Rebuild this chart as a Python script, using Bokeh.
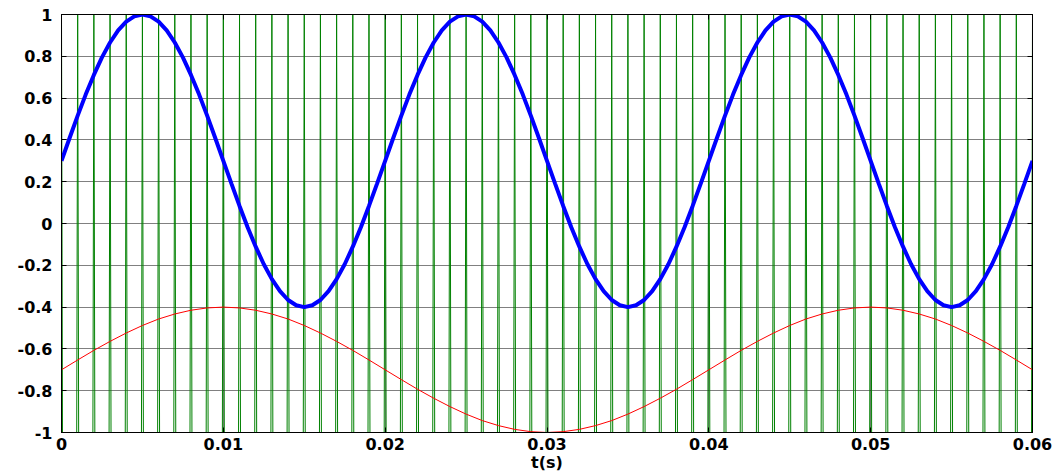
from bokeh.plotting import figure
from bokeh.models import Range1d, FixedTicker, LinearAxis
from bokeh.embed import file_html
from bokeh.resources import INLINE

# ---- data ----
# thick blue signal, sampled every 0.5 ms
blue_step = 0.0005
blue_y = [
    0.300, 0.409, 0.516, 0.618, 0.711, 0.795, 0.866, 0.924, 0.966, 0.991,
    1.000, 0.991, 0.966, 0.924, 0.866, 0.795, 0.711, 0.618, 0.516, 0.409,
    0.300, 0.191, 0.084, -0.018, -0.111, -0.195, -0.266, -0.324, -0.366, -0.391,
    -0.400, -0.391, -0.366, -0.324, -0.266, -0.195, -0.111, -0.018, 0.084, 0.191,
    0.300, 0.409, 0.516, 0.618, 0.711, 0.795, 0.866, 0.924, 0.966, 0.991,
    1.000, 0.991, 0.966, 0.924, 0.866, 0.795, 0.711, 0.618, 0.516, 0.409,
    0.300, 0.191, 0.084, -0.018, -0.111, -0.195, -0.266, -0.324, -0.366, -0.391,
    -0.400, -0.391, -0.366, -0.324, -0.266, -0.195, -0.111, -0.018, 0.084, 0.191,
    0.300, 0.409, 0.516, 0.618, 0.711, 0.795, 0.866, 0.924, 0.966, 0.991,
    1.000, 0.991, 0.966, 0.924, 0.866, 0.795, 0.711, 0.618, 0.516, 0.409,
    0.300, 0.191, 0.084, -0.018, -0.111, -0.195, -0.266, -0.324, -0.366, -0.391,
    -0.400, -0.391, -0.366, -0.324, -0.266, -0.195, -0.111, -0.018, 0.084, 0.191,
    0.300,
]
blue_t = [round(i * blue_step, 5) for i in range(len(blue_y))]

# thin red signal, sampled every 1 ms
red_step = 0.001
red_y = [
    -0.700, -0.653, -0.607, -0.564, -0.524, -0.488, -0.457, -0.433, -0.415, -0.404,
    -0.400, -0.404, -0.415, -0.433, -0.457, -0.488, -0.524, -0.564, -0.607, -0.653,
    -0.700, -0.747, -0.793, -0.836, -0.876, -0.912, -0.943, -0.967, -0.985, -0.996,
    -1.000, -0.996, -0.985, -0.967, -0.943, -0.912, -0.876, -0.836, -0.793, -0.747,
    -0.700, -0.653, -0.607, -0.564, -0.524, -0.488, -0.457, -0.433, -0.415, -0.404,
    -0.400, -0.404, -0.415, -0.433, -0.457, -0.488, -0.524, -0.564, -0.607, -0.653,
    -0.700,
]
red_t = [round(i * red_step, 4) for i in range(len(red_y))]

# green carrier: near-vertical strokes between -1 and 1 (times of each stroke)
green_t = [
    0.000, 0.001, 0.002, 0.003, 0.004, 0.005, 0.006, 0.007, 0.008, 0.009,
    0.010, 0.011, 0.012, 0.013, 0.014, 0.015, 0.016, 0.017, 0.018, 0.019,
    0.020, 0.021, 0.022, 0.023, 0.024, 0.025, 0.026, 0.027, 0.028, 0.029,
    0.030, 0.031, 0.032, 0.033, 0.034, 0.035, 0.036, 0.037, 0.038, 0.039,
    0.040, 0.041, 0.042, 0.043, 0.044, 0.045, 0.046, 0.047, 0.048, 0.049,
    0.050, 0.051, 0.052, 0.053, 0.054, 0.055, 0.056, 0.057, 0.058, 0.059,
    0.060,
]
green_low, green_high = -1.0, 1.0

x_ticks = [0.0, 0.01, 0.02, 0.03, 0.04, 0.05, 0.06]
x_tick_labels = ["0", "0.01", "0.02", "0.03", "0.04", "0.05", "0.06"]
y_ticks = [-1.0, -0.8, -0.6, -0.4, -0.2, 0.0, 0.2, 0.4, 0.6, 0.8, 1.0]
y_tick_labels = ["-1", "-0.8", "-0.6", "-0.4", "-0.2", "0", "0.2", "0.4", "0.6", "0.8", "1"]
x_label = "t(s)"

FONT = "DejaVu Sans"
FS = "16px"

p = figure(
    width=1064, height=474,
    x_range=Range1d(0, 0.06), y_range=Range1d(-1, 1),
    output_backend="svg", toolbar_location=None,
    min_border_left=61, min_border_right=32, min_border_top=14, min_border_bottom=40,
    x_axis_label=x_label,
)
p.outline_line_color = "black"
p.outline_line_width = 1
p.background_fill_color = "white"
p.border_fill_color = "white"

# grid
p.xgrid.ticker = FixedTicker(ticks=x_ticks)
p.ygrid.ticker = FixedTicker(ticks=y_ticks)
for g in (p.xgrid, p.ygrid):
    g.grid_line_color = "black"
    g.grid_line_dash = "1 1"
    g.grid_line_width = 1
    g.grid_line_alpha = 1.0

# green strokes (narrow spikes)
half = 0.00006
xs = [[t - half, t, t + half] for t in green_t]
ys = [[green_low, green_high, green_low] for _ in green_t]
p.multi_line(xs, ys, line_color="#008000", line_width=1)

# red and blue signals
p.line(red_t, red_y, line_color="#FF0000", line_width=1)
p.line(blue_t, blue_y, line_color="#0000FF", line_width=4)

# axes
def style_axis(ax, ticks, labels, show_labels=True):
    ax.ticker = FixedTicker(ticks=ticks)
    ax.major_label_overrides = {t: l for t, l in zip(ticks, labels)}
    ax.major_tick_in = 5
    ax.major_tick_out = 0
    ax.minor_tick_line_color = None
    ax.axis_line_color = "black"
    ax.major_tick_line_color = "black"
    ax.major_label_text_font = FONT
    ax.major_label_text_font_style = "bold"
    ax.major_label_text_font_size = FS if show_labels else "0px"
    ax.major_label_text_color = "black"
    ax.major_label_standoff = 5 if show_labels else 0

style_axis(p.xaxis[0], x_ticks, x_tick_labels)
style_axis(p.yaxis[0], y_ticks, y_tick_labels)
p.yaxis[0].major_label_standoff = 9
p.xaxis[0].axis_label_text_font = FONT
p.xaxis[0].axis_label_text_font_size = FS
p.xaxis[0].axis_label_text_font_style = "bold"
p.xaxis[0].axis_label_text_color = "black"
p.xaxis[0].axis_label_standoff = 0

top_ax = LinearAxis()
right_ax = LinearAxis()
p.add_layout(top_ax, "above")
p.add_layout(right_ax, "right")
style_axis(top_ax, x_ticks, ["" for _ in x_ticks], show_labels=False)
style_axis(right_ax, y_ticks, ["" for _ in y_ticks], show_labels=False)

open("out.html", "w").write(file_html(p, INLINE))
